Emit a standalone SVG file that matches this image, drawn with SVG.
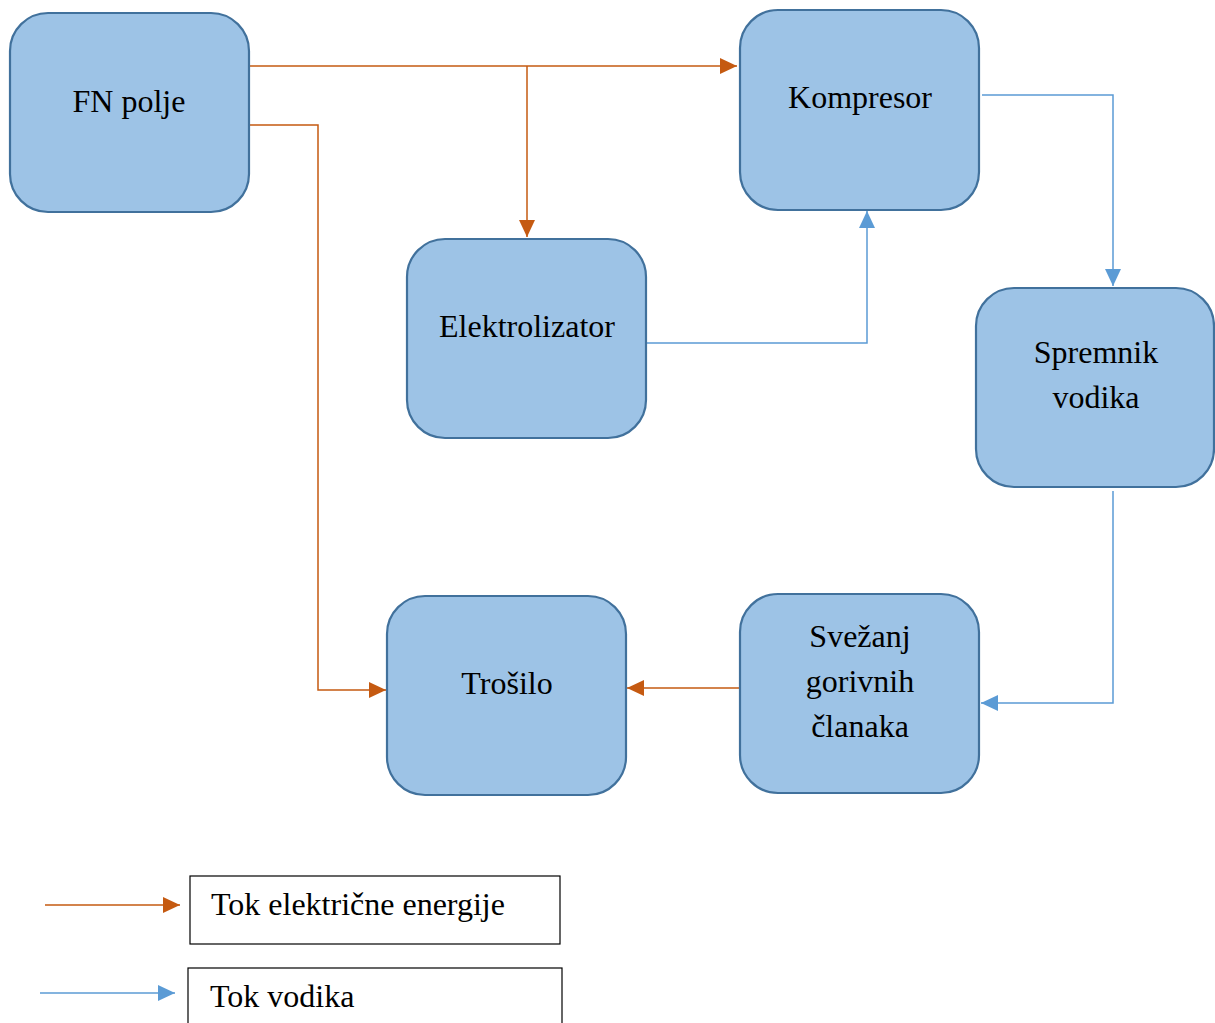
<svg xmlns="http://www.w3.org/2000/svg" width="1215" height="1023" viewBox="0 0 1215 1023">
<style>
.node rect{fill:#9DC3E6;stroke:#41719C;stroke-width:2.2}
text{font-family:'Liberation Serif','Times New Roman',serif;font-size:32px;fill:#000}
.node text{text-anchor:middle}
.legend rect{fill:#fff;stroke:#000;stroke-width:1.2}
.el{fill:none;stroke:#C55A11;stroke-width:1.5}
.h2{fill:none;stroke:#5B9BD5;stroke-width:1.5}
</style>
<defs>
<marker id="ao" markerUnits="userSpaceOnUse" markerWidth="18" markerHeight="16" refX="17" refY="8" orient="auto"><path d="M0,0 L17,8 L0,16 Z" fill="#C55A11"/></marker>
<marker id="ab" markerUnits="userSpaceOnUse" markerWidth="18" markerHeight="16" refX="17" refY="8" orient="auto"><path d="M0,0 L17,8 L0,16 Z" fill="#5B9BD5"/></marker>
</defs>
<g id="connectors">
<path class="el" d="M249,66 H737" marker-end="url(#ao)"/>
<path class="el" d="M527,66 V237" marker-end="url(#ao)"/>
<path class="el" d="M249,125 H318 V690 H386" marker-end="url(#ao)"/>
<path class="el" d="M740,688 H627" marker-end="url(#ao)"/>
<path class="h2" d="M646,343 H867 V211" marker-end="url(#ab)"/>
<path class="h2" d="M982,95 H1113 V286" marker-end="url(#ab)"/>
<path class="h2" d="M1113,491 V703 H981" marker-end="url(#ab)"/>
</g>
<g id="fn" class="node"><rect x="10" y="13" width="239" height="199" rx="38"/><text x="129" y="112">FN polje</text></g>
<g id="kompresor" class="node"><rect x="740" y="10" width="239" height="200" rx="38"/><text x="860" y="108">Kompresor</text></g>
<g id="elektrolizator" class="node"><rect x="407" y="239" width="239" height="199" rx="38"/><text x="527" y="337">Elektrolizator</text></g>
<g id="spremnik" class="node"><rect x="976" y="288" width="238" height="199" rx="38"/><text x="1096" y="363">Spremnik</text><text x="1096" y="408">vodika</text></g>
<g id="trosilo" class="node"><rect x="387" y="596" width="239" height="199" rx="38"/><text x="507" y="694">Trošilo</text></g>
<g id="svezanj" class="node"><rect x="740" y="594" width="239" height="199" rx="38"/><text x="860" y="647">Svežanj</text><text x="860" y="692">gorivnih</text><text x="860" y="737">članaka</text></g>
<g id="legend" class="legend">
<path class="el" d="M45,905 H180" marker-end="url(#ao)"/>
<rect x="190" y="876" width="370" height="68"/>
<text x="211" y="915">Tok električne energije</text>
<path class="h2" d="M40,993 H175" marker-end="url(#ab)"/>
<rect x="188" y="968" width="374" height="70"/>
<text x="210" y="1007">Tok vodika</text>
</g>
</svg>
